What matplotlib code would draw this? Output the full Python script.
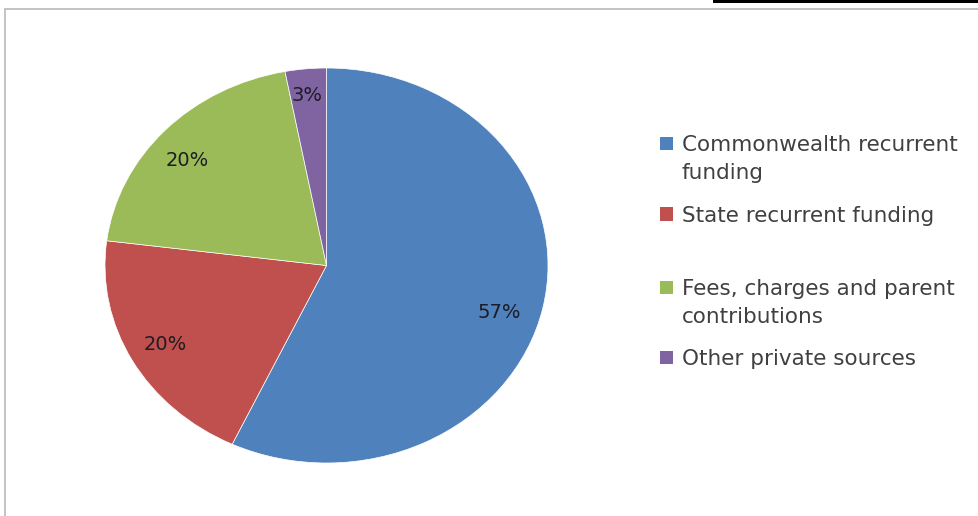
import matplotlib
matplotlib.use("Agg")
import matplotlib.pyplot as plt
from matplotlib.patches import Rectangle

W, H = 979, 516

# funding shares (per cent), clockwise from 12 o'clock
sources = ["Commonwealth recurrent\nfunding", "State recurrent funding",
           "Fees, charges and parent\ncontributions", "Other private sources"]
shares = [57, 20, 20, 3]
colors = ["#4f81bd", "#c0504d", "#9bbb59", "#8064a2"]


def px(x, y):
    """pixel position (from top-left) -> figure fraction"""
    return x / W, 1 - y / H


fig = plt.figure(figsize=(W / 100, H / 100), dpi=100)
fig.patch.set_facecolor("white")

# chart frame: grey rule along top and left, black tab top right
fig.add_artist(Rectangle(px(4, 10), (W - 4) / W, 2 / H, transform=fig.transFigure,
                         color="#c4c4c4", lw=0))
fig.add_artist(Rectangle(px(4, H), 2 / W, (H - 8) / H, transform=fig.transFigure,
                         color="#c4c4c4", lw=0))
fig.add_artist(Rectangle(px(713, 3), (W - 713) / W, 3 / H, transform=fig.transFigure,
                         color="black", lw=0))

# pie is slightly wider than tall
ax = fig.add_axes([105 / W, (H - 463) / H, 443 / W, 395 / H])
wedges, _, pct = ax.pie(shares, colors=colors, startangle=90, counterclock=False,
                        autopct="%1.0f%%", pctdistance=0.83,
                        wedgeprops=dict(edgecolor="white", linewidth=0.5),
                        textprops=dict(fontsize=14, color="#1c1c24"))
# nudge a few labels to where they sit best inside their slices
pct[0].set_position((0.78, -0.24))
pct[2].set_position((-0.63, 0.53))
pct[3].set_position((-0.09, 0.86))
ax.set_aspect("auto")
ax.set_xlim(-1, 1)
ax.set_ylim(-1, 1)
ax.axis("off")

# legend, drawn by hand so the entries keep their uneven spacing
box_y = [143, 214, 287, 357]
for name, c, by in zip(sources, colors, box_y):
    x0, y0 = px(660, by + 6.5)
    fig.add_artist(Rectangle((x0, y0), 13 / W, 13 / H, transform=fig.transFigure,
                             color=c, lw=0))
    for j, line in enumerate(name.split("\n")):
        fig.text(*px(682, by + 8 + j * 28), line, fontsize=15.5, color="#404040",
                 va="baseline", ha="left")

fig.savefig("out.png", dpi=100, facecolor="white")
